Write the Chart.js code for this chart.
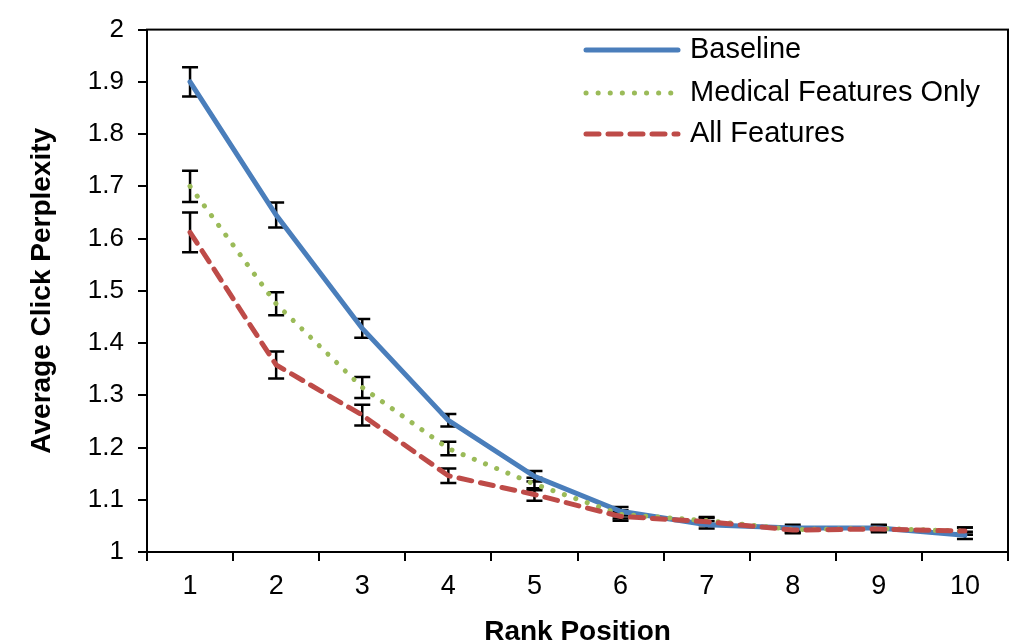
<!DOCTYPE html>
<html>
<head>
<meta charset="utf-8">
<script src="https://cdn.jsdelivr.net/npm/chart.js@4/dist/chart.umd.min.js"></script>
<style>
  html, body { margin: 0; padding: 0; background: #fff; }
  #chart { display: block; }
</style>
</head>
<body>
<canvas id="chart" width="1021" height="643"></canvas>
<script>
// rank positions on the x axis
var ranks = ['1', '2', '3', '4', '5', '6', '7', '8', '9', '10'];

// average click perplexity per rank
var baseline = [1.90, 1.645, 1.428, 1.252, 1.145, 1.078, 1.052, 1.046, 1.046, 1.032];
var medicalOnly = [1.70, 1.475, 1.315, 1.198, 1.13, 1.072, 1.06, 1.043, 1.045, 1.04];
var allFeatures = [1.612, 1.358, 1.262, 1.146, 1.11, 1.068, 1.058, 1.042, 1.044, 1.04];

// error bar half widths
var baselineErr = [0.028, 0.024, 0.018, 0.012, 0.01, 0.008, 0.007, 0.006, 0.006, 0.007];
var medicalErr = [0.03, 0.022, 0.02, 0.013, 0.012, 0.008, 0.007, 0.006, 0.006, 0.007];
var allErr = [0.038, 0.026, 0.02, 0.014, 0.012, 0.008, 0.007, 0.006, 0.006, 0.007];

var yTicks = [1, 1.1, 1.2, 1.3, 1.4, 1.5, 1.6, 1.7, 1.8, 1.9, 2];

var FONT = "'Liberation Sans', Arial, sans-serif";

// error bars, drawn before the lines so lines sit on top
var errorBars = {
    id: 'errorBars',
    beforeDatasetsDraw: function(chart) {
        var ctx = chart.ctx;
        var y = chart.scales.y;
        ctx.save();
        ctx.strokeStyle = '#000';
        ctx.lineWidth = 2.5;
        chart.data.datasets.forEach(function(ds, i) {
            var meta = chart.getDatasetMeta(i);
            meta.data.forEach(function(pt, j) {
                var e = ds.errors[j];
                var top = y.getPixelForValue(ds.data[j] + e);
                var bot = y.getPixelForValue(ds.data[j] - e);
                ctx.beginPath();
                ctx.moveTo(pt.x, top); ctx.lineTo(pt.x, bot);
                ctx.moveTo(pt.x - 8, top); ctx.lineTo(pt.x + 8, top);
                ctx.moveTo(pt.x - 8, bot); ctx.lineTo(pt.x + 8, bot);
                ctx.stroke();
            });
        });
        ctx.restore();
    }
};

// box around the plot and the legend inside it
var boxAndLegend = {
    id: 'boxAndLegend',
    afterDraw: function(chart) {
        var ctx = chart.ctx;
        var a = chart.chartArea;
        ctx.save();
        ctx.strokeStyle = '#000';
        ctx.lineWidth = 2;
        ctx.strokeRect(a.left, a.top, a.right - a.left, a.bottom - a.top);

        var rows = [50, 93, 134];
        chart.data.datasets.forEach(function(ds, i) {
            ctx.beginPath();
            ctx.strokeStyle = ds.borderColor;
            ctx.lineWidth = ds.borderWidth;
            ctx.lineCap = 'round';
            ctx.setLineDash(ds.borderDash || []);
            ctx.moveTo(586, rows[i]);
            ctx.lineTo(678, rows[i]);
            ctx.stroke();
            ctx.setLineDash([]);
            ctx.fillStyle = '#000';
            ctx.font = '29px ' + FONT;
            ctx.textAlign = 'left';
            ctx.textBaseline = 'middle';
            ctx.fillText(ds.label, 690, rows[i]);
        });
        ctx.restore();
    }
};

new Chart(document.getElementById('chart'), {
    type: 'line',
    data: {
        labels: ranks,
        datasets: [
            {
                label: 'Baseline',
                data: baseline,
                errors: baselineErr,
                borderColor: '#4A7EBB',
                borderWidth: 5,
                borderCapStyle: 'round',
                pointRadius: 0,
                tension: 0,
                order: 3
            },
            {
                label: 'Medical Features Only',
                data: medicalOnly,
                errors: medicalErr,
                borderColor: '#9BBB59',
                borderWidth: 5,
                borderDash: [0.1, 12],
                borderCapStyle: 'round',
                pointRadius: 0,
                tension: 0,
                order: 2
            },
            {
                label: 'All Features',
                data: allFeatures,
                errors: allErr,
                borderColor: '#BE4B48',
                borderWidth: 5,
                borderDash: [13, 9],
                borderCapStyle: 'round',
                pointRadius: 0,
                tension: 0,
                order: 1
            }
        ]
    },
    options: {
        responsive: false,
        animation: false,
        layout: { padding: { top: 21, right: 13, left: 0, bottom: 0 } },
        plugins: {
            legend: { display: false },
            tooltip: { enabled: false }
        },
        scales: {
            x: {
                offset: true,
                grid: {
                    offset: true,
                    drawOnChartArea: false,
                    drawTicks: true,
                    tickLength: 9,
                    color: '#000',
                    lineWidth: 2
                },
                border: { display: true, color: '#000', width: 2 },
                ticks: {
                    color: '#000',
                    font: { family: FONT, size: 27 },
                    padding: 9,
                    maxRotation: 0
                },
                title: {
                    display: true,
                    text: 'Rank Position',
                    color: '#000',
                    font: { family: FONT, size: 28, weight: 'bold', lineHeight: 1 },
                    padding: { top: 0, bottom: -3 }
                },
                afterFit: function(s) { s.height = 91; }
            },
            y: {
                min: 1,
                max: 2,
                afterBuildTicks: function(s) {
                    s.ticks = yTicks.map(function(v) { return { value: v }; });
                },
                grid: {
                    drawOnChartArea: false,
                    drawTicks: true,
                    tickLength: 9,
                    color: '#000',
                    lineWidth: 2
                },
                border: { display: true, color: '#000', width: 2 },
                ticks: {
                    color: '#000',
                    font: { family: FONT, size: 26 },
                    padding: 14,
                    callback: function(v) { return String(+v.toFixed(1)); }
                },
                title: {
                    display: true,
                    text: 'Average Click Perplexity',
                    color: '#000',
                    font: { family: FONT, size: 28, weight: 'bold', lineHeight: 1 },
                    padding: { top: 28, bottom: 0 }
                },
                afterFit: function(s) { s.width = 147; }
            }
        }
    },
    plugins: [errorBars, boxAndLegend]
});
</script>
</body>
</html>
